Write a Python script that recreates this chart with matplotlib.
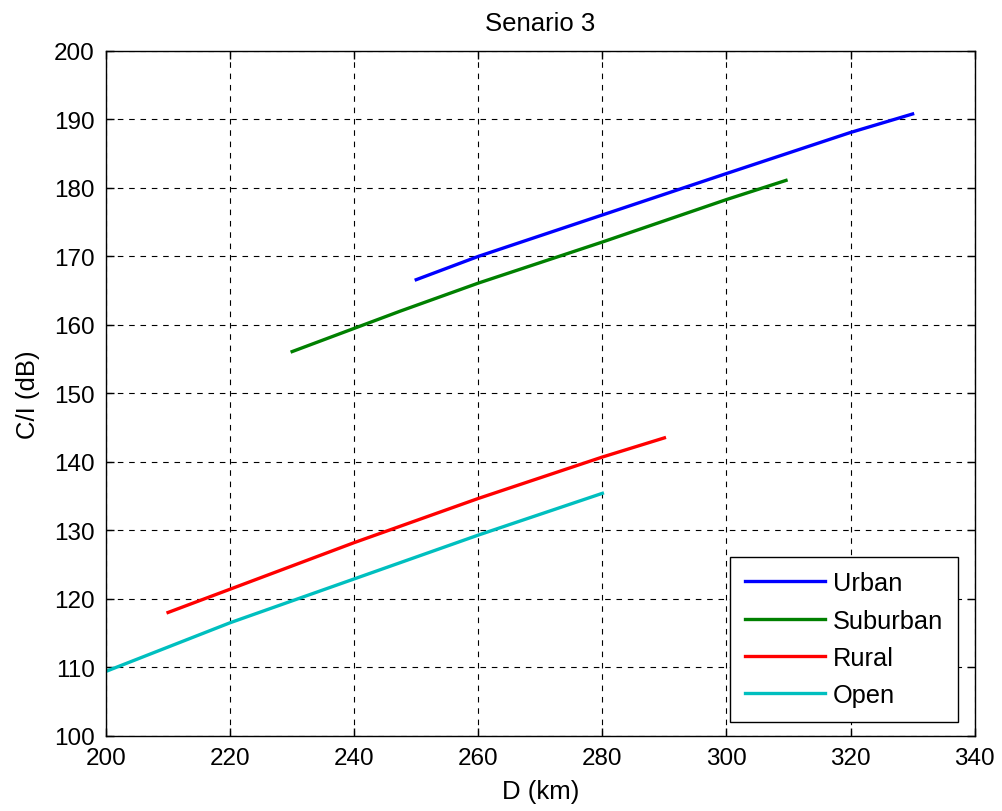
import matplotlib
matplotlib.use("Agg")
import matplotlib.pyplot as plt

plt.rcParams['font.family'] = ['Liberation Sans', 'DejaVu Sans']

# Distance (km) and carrier-to-interference ratio (dB) for each environment
d_urban = [250, 260, 280, 300, 320, 330]
ci_urban = [166.6, 170.0, 176.05, 182.1, 188.1, 190.8]

d_suburban = [230, 247.4, 260, 280, 300, 309.6]
ci_suburban = [156.1, 162.0, 166.1, 172.1, 178.3, 181.1]

d_rural = [210, 220, 240, 260, 280, 290]
ci_rural = [118.0, 121.4, 128.2, 134.65, 140.7, 143.5]

d_open = [200, 220, 240, 260, 280]
ci_open = [109.4, 116.5, 122.9, 129.3, 135.4]

series_labels = ['Urban', 'Suburban', 'Rural', 'Open']
x_ticks = [200, 220, 240, 260, 280, 300, 320, 340]
y_ticks = [100, 110, 120, 130, 140, 150, 160, 170, 180, 190, 200]

fig = plt.figure(figsize=(10.02, 8.12), dpi=100)
ax = fig.add_axes([0.1058, 0.0927, 0.8669, 0.8433])

lw = 2.4
ax.plot(d_urban, ci_urban, color=(0, 0, 1), lw=lw, label=series_labels[0])
ax.plot(d_suburban, ci_suburban, color=(0, 0.5, 0), lw=lw, label=series_labels[1])
ax.plot(d_rural, ci_rural, color=(1, 0, 0), lw=lw, label=series_labels[2])
ax.plot(d_open, ci_open, color=(0, 0.75, 0.75), lw=lw, label=series_labels[3])

ax.set_xlim(200, 340)
ax.set_ylim(100, 200)
ax.set_xticks(x_ticks)
ax.set_yticks(y_ticks)

ax.grid(True, color='black', linestyle=(0, (5, 5.2)), linewidth=0.8)
ax.set_axisbelow(True)

ax.tick_params(direction='in', top=True, right=True, length=6, width=1,
               labelsize=17.5, pad=8)
for sp in ax.spines.values():
    sp.set_linewidth(1.0)
    sp.set_color('black')

ax.set_title('Senario 3', fontsize=18.5, pad=15)
ax.set_xlabel('D (km)', fontsize=18.5, labelpad=7)
ax.set_ylabel('C/I (dB)', fontsize=18.5, labelpad=10)

leg = ax.legend(loc='lower right', bbox_to_anchor=(0.9806, 0.0204),
                fontsize=18.3, frameon=True, fancybox=False, shadow=False,
                handlelength=3.15, handletextpad=0.3, labelspacing=0.52,
                borderpad=0.58, borderaxespad=0)
leg.get_frame().set_edgecolor('black')
leg.get_frame().set_linewidth(1.0)
leg.get_frame().set_facecolor('white')
leg.get_frame().set_alpha(1)

fig.savefig('out.png', dpi=100)
